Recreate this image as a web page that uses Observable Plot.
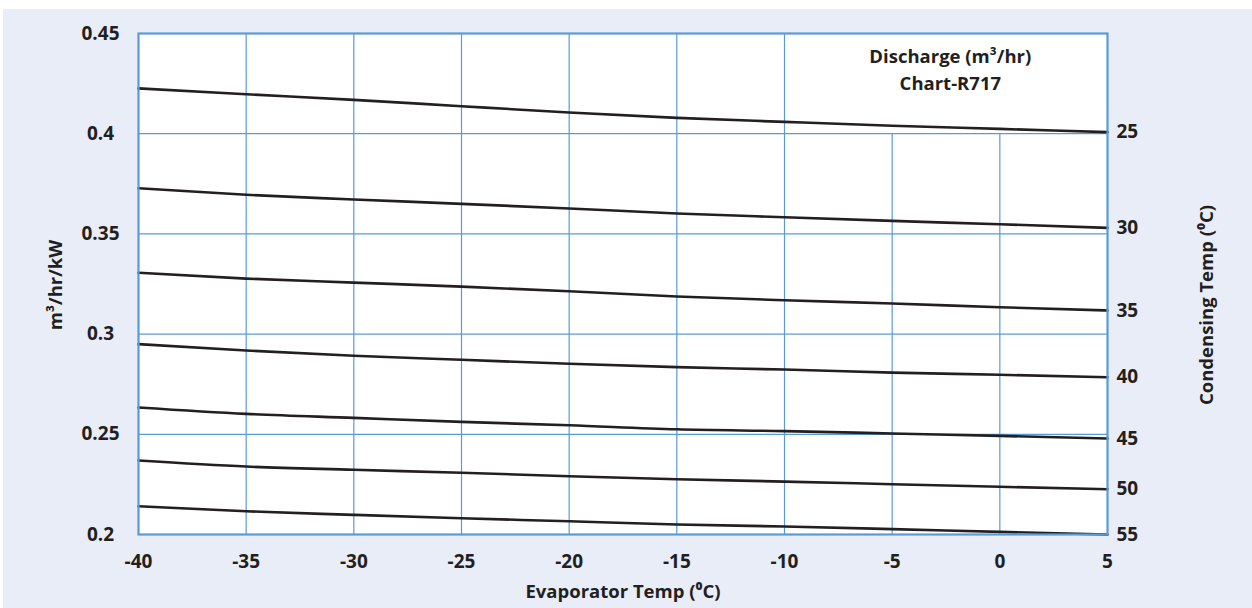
<!DOCTYPE html>
<html>
<head>
<meta charset="utf-8">
<script src="https://cdn.jsdelivr.net/npm/d3@7"></script>
<script src="https://cdn.jsdelivr.net/npm/@observablehq/plot@0.6"></script>
<style>
  html, body { margin: 0; padding: 0; background: #ffffff; }
  #chart { padding: 9px 0 0 3px; }
  #chart svg { background: #e8edf8; display: block; }
</style>
</head>
<body>
<div id="chart"></div>
<script>
// Evaporator temperatures (°C) along the x axis
const evapTemps = [-40, -35, -30, -25, -20, -15, -10, -5, 0, 5];
// Condensing temperatures (°C), one curve each
const condTemps = [25, 30, 35, 40, 45, 50, 55];
// Discharge (m³/hr/kW) per condensing temperature, read at each evapTemp
const discharge25 = [0.4226, 0.4197, 0.4169, 0.4137, 0.4106, 0.4079, 0.4059, 0.4040, 0.4024, 0.4008];
const discharge30 = [0.3728, 0.3695, 0.3672, 0.3650, 0.3627, 0.3602, 0.3583, 0.3565, 0.3548, 0.3530];
const discharge35 = [0.3306, 0.3277, 0.3257, 0.3237, 0.3214, 0.3188, 0.3169, 0.3153, 0.3134, 0.3118];
const discharge40 = [0.2950, 0.2918, 0.2892, 0.2872, 0.2852, 0.2835, 0.2823, 0.2808, 0.2797, 0.2785];
const discharge45 = [0.2634, 0.2602, 0.2582, 0.2562, 0.2545, 0.2525, 0.2516, 0.2504, 0.2492, 0.2479];
const discharge50 = [0.2369, 0.2339, 0.2323, 0.2308, 0.2291, 0.2276, 0.2264, 0.2251, 0.2238, 0.2226];
const discharge55 = [0.2141, 0.2116, 0.2098, 0.2081, 0.2066, 0.2050, 0.2040, 0.2027, 0.2013, 0.2000];
// Axis ticks
const xTicks = [-40, -35, -30, -25, -20, -15, -10, -5, 0, 5];
const yTicks = [0.2, 0.25, 0.3, 0.35, 0.4, 0.45];
const gridX = [-35, -30, -25, -20, -15, -10, -5, 0];
const gridY = [0.25, 0.3, 0.35, 0.4];
// Texts
const xTitle = "Evaporator Temp (⁰C)";
const yTitle = "m³/hr/kW";
const rightTitle = "Condensing Temp (⁰C)";
const boxTitle = ["Discharge (m³/hr)", "Chart-R717"];

const seriesValues = [discharge25, discharge30, discharge35, discharge40, discharge45, discharge50, discharge55];
const rows = [];
condTemps.forEach((c, i) => {
  evapTemps.forEach((e, j) => rows.push({cond: c, evap: e, v: seriesValues[i][j]}));
});
const ends = condTemps.map((c, i) => ({cond: c, evap: evapTemps[evapTemps.length - 1], v: seriesValues[i][evapTemps.length - 1]}));

const FONT = "'Open Sans', 'Noto Sans', sans-serif";
const INK = "#231f20";
const GRID = "#5b9bd5";

const chart = Plot.plot({
  width: 1249,
  height: 599,
  marginLeft: 135,
  marginRight: 145,
  marginTop: 24,
  marginBottom: 74,
  style: {fontFamily: FONT, fontWeight: "bold", fontSize: "19px", color: INK, background: "#e8edf8"},
  x: {domain: [-40, 5]},
  y: {domain: [0.2, 0.45]},
  marks: [
    Plot.frame({fill: "white"}),
    Plot.ruleX(gridX, {x: d => d, y1: 0.2, y2: d => d > -10 ? 0.4 : 0.45, stroke: GRID, strokeWidth: 1.2}),
    Plot.ruleY(gridY, {y: d => d, stroke: GRID, strokeWidth: 1.2}),
    Plot.line(rows, {x: "evap", y: "v", z: "cond", stroke: INK, strokeWidth: 2.6, curve: "monotone-x"}),
    Plot.frame({stroke: GRID, strokeWidth: 2.2}),
    Plot.axisX({ticks: xTicks, tickSize: 0, tickPadding: 20, tickFormat: d => String(d), label: null, fontSize: 19, fill: INK}),
    Plot.axisY({ticks: yTicks, tickSize: 0, tickPadding: 38, textAnchor: "middle", tickFormat: d => String(d), label: null, fontSize: 19, fill: INK}),
    Plot.text(ends, {x: "evap", y: "v", text: d => String(d.cond), dx: 9, textAnchor: "start", fontSize: 19, fill: INK}),
    Plot.text(boxTitle, {x: -2.3, y: (d, i) => i === 0 ? 0.438 : 0.425, text: d => d, fontSize: 18.5, fill: INK}),
    Plot.text([xTitle], {frameAnchor: "bottom", dy: 63, textAnchor: "middle", text: d => d, fontSize: 18.5, fill: INK}),
    Plot.text([yTitle], {frameAnchor: "left", dx: -82, dy: 1, textAnchor: "middle", rotate: -90, text: d => d, fontSize: 18.5, fill: INK}),
    Plot.text([rightTitle], {frameAnchor: "right", dx: 100, dy: 21, textAnchor: "middle", rotate: -90, text: d => d, fontSize: 18.5, fill: INK})
  ]
});
document.getElementById("chart").appendChild(chart);
</script>
</body>
</html>
